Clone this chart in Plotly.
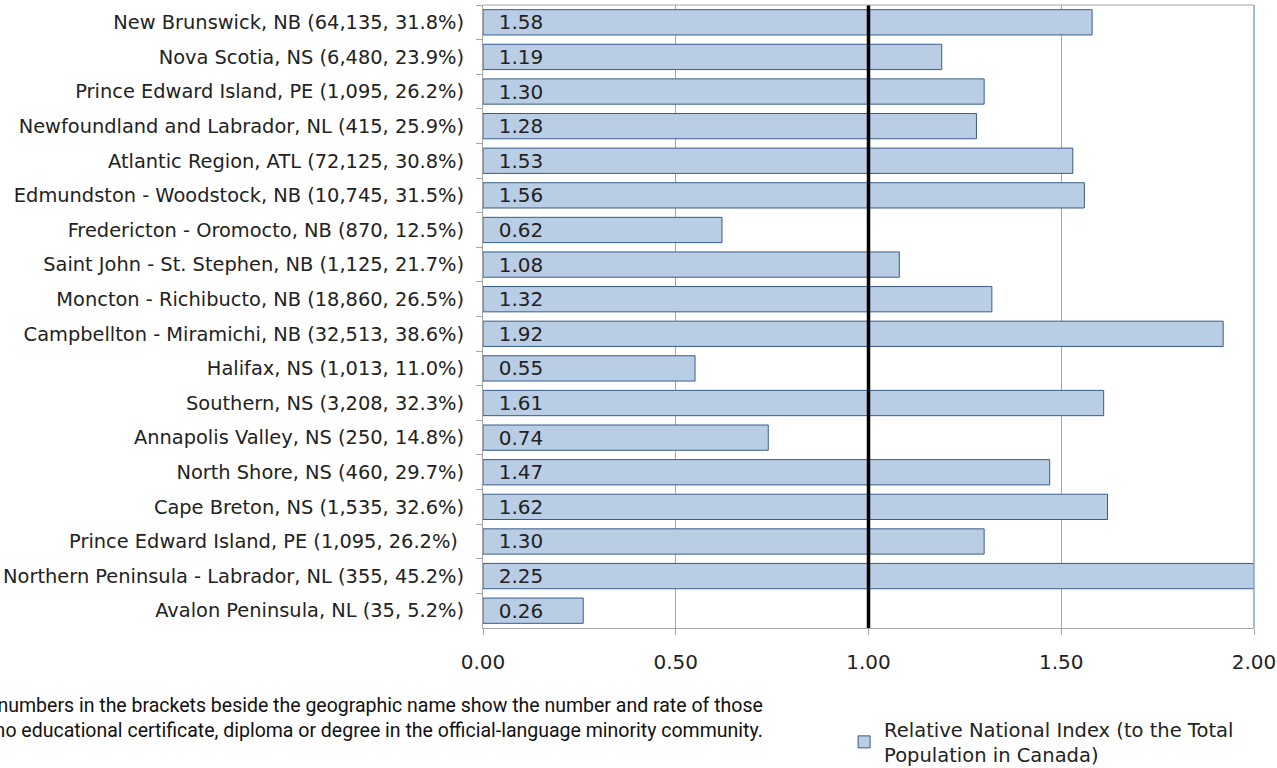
import plotly.graph_objects as go

categories = [
    "New Brunswick, NB (64,135, 31.8%)",
    "Nova Scotia, NS (6,480, 23.9%)",
    "Prince Edward Island, PE (1,095, 26.2%)",
    "Newfoundland and Labrador, NL (415, 25.9%)",
    "Atlantic Region, ATL (72,125, 30.8%)",
    "Edmundston - Woodstock, NB (10,745, 31.5%)",
    "Fredericton - Oromocto, NB (870, 12.5%)",
    "Saint John - St. Stephen, NB (1,125, 21.7%)",
    "Moncton - Richibucto, NB (18,860, 26.5%)",
    "Campbellton - Miramichi, NB (32,513, 38.6%)",
    "Halifax, NS (1,013, 11.0%)",
    "Southern, NS (3,208, 32.3%)",
    "Annapolis Valley, NS (250, 14.8%)",
    "North Shore, NS (460, 29.7%)",
    "Cape Breton, NS (1,535, 32.6%)",
    "Prince Edward Island, PE (1,095, 26.2%) ",
    "Northern Peninsula - Labrador, NL (355, 45.2%)",
    "Avalon Peninsula, NL (35, 5.2%)",
]
values = [1.58, 1.19, 1.30, 1.28, 1.53, 1.56, 0.62, 1.08, 1.32, 1.92,
          0.55, 1.61, 0.74, 1.47, 1.62, 1.30, 2.25, 0.26]
x_ticks = [0.0, 0.5, 1.0, 1.5, 2.0]
x_tick_labels = ["0.00", "0.50", "1.00", "1.50", "2.00"]
reference_value = 1.0

fig = go.Figure()
fig.add_trace(go.Bar(
    y=categories, x=values, orientation="h",
    name="Relative National Index (to the Total<br>Population in Canada)",
    marker=dict(color="#B9CDE5", line=dict(color="#385D8A", width=1)),
    width=0.73,
    text=[f"&nbsp;&nbsp;{v:.2f}" for v in values],
    textposition="inside", insidetextanchor="start", constraintext="none",
    textfont=dict(family="DejaVu Sans", size=20, color="#222222"),
    cliponaxis=True,
    hoverinfo="x+y",
))

fig.add_shape(type="line", xref="x", yref="paper", x0=reference_value, x1=reference_value,
              y0=0, y1=1, line=dict(color="black", width=3.5), layer="above")
# plot area border (top and right)
fig.add_shape(type="line", xref="paper", yref="paper", x0=0, x1=1, y0=1, y1=1,
              line=dict(color="#A6A6A6", width=1), layer="above")
fig.add_shape(type="line", xref="paper", yref="paper", x0=1, x1=1, y0=0, y1=1,
              line=dict(color="#7FA4D6", width=1.5), layer="above")

fig.add_annotation(
    xref="paper", yref="paper", x=0.366, y=-0.103, xanchor="right", yanchor="top",
    align="right", showarrow=False,
    text="Note: The numbers in the brackets beside the geographic name show the number and rate of those<br>"
         "with no educational certificate, diploma or degree in the official-language minority community.",
    font=dict(family="Roboto", size=19.5, color="#111111"),
)

fig.update_layout(
    width=1277, height=768,
    margin=dict(l=483, r=23, t=5, b=140, autoexpand=False),
    paper_bgcolor="white", plot_bgcolor="white",
    font=dict(family="DejaVu Sans", color="#222222"),
    bargap=0.27,
    showlegend=True,
    legend=dict(xref="container", yref="container", x=0.661, y=0.0755,
                xanchor="left", yanchor="top",
                font=dict(family="DejaVu Sans", size=19.5, color="#222222"),
                bgcolor="rgba(0,0,0,0)", itemwidth=30),
    xaxis=dict(range=[0, 2], tickvals=x_ticks, ticktext=x_tick_labels,
               showgrid=True, gridcolor="#A6A6A6", gridwidth=1,
               showline=True, linecolor="#A6A6A6", ticks="outside", ticklen=6,
               tickcolor="#A6A6A6", ticklabelstandoff=10,
               tickfont=dict(family="DejaVu Sans", size=20, color="#222222"),
               zeroline=False, fixedrange=True, automargin=False),
    yaxis=dict(autorange="reversed", type="category", showline=True, linecolor="#A6A6A6",
               ticks="outside", tickson="boundaries", ticklen=6, tickcolor="#A6A6A6",
               ticklabelstandoff=14,
               tickfont=dict(family="DejaVu Sans", size=19.4, color="#222222"),
               showgrid=False, fixedrange=True, automargin=False),
)

fig.write_html("out.html", config={"displayModeBar": False},
               post_script="document.body.style.margin='0';")
